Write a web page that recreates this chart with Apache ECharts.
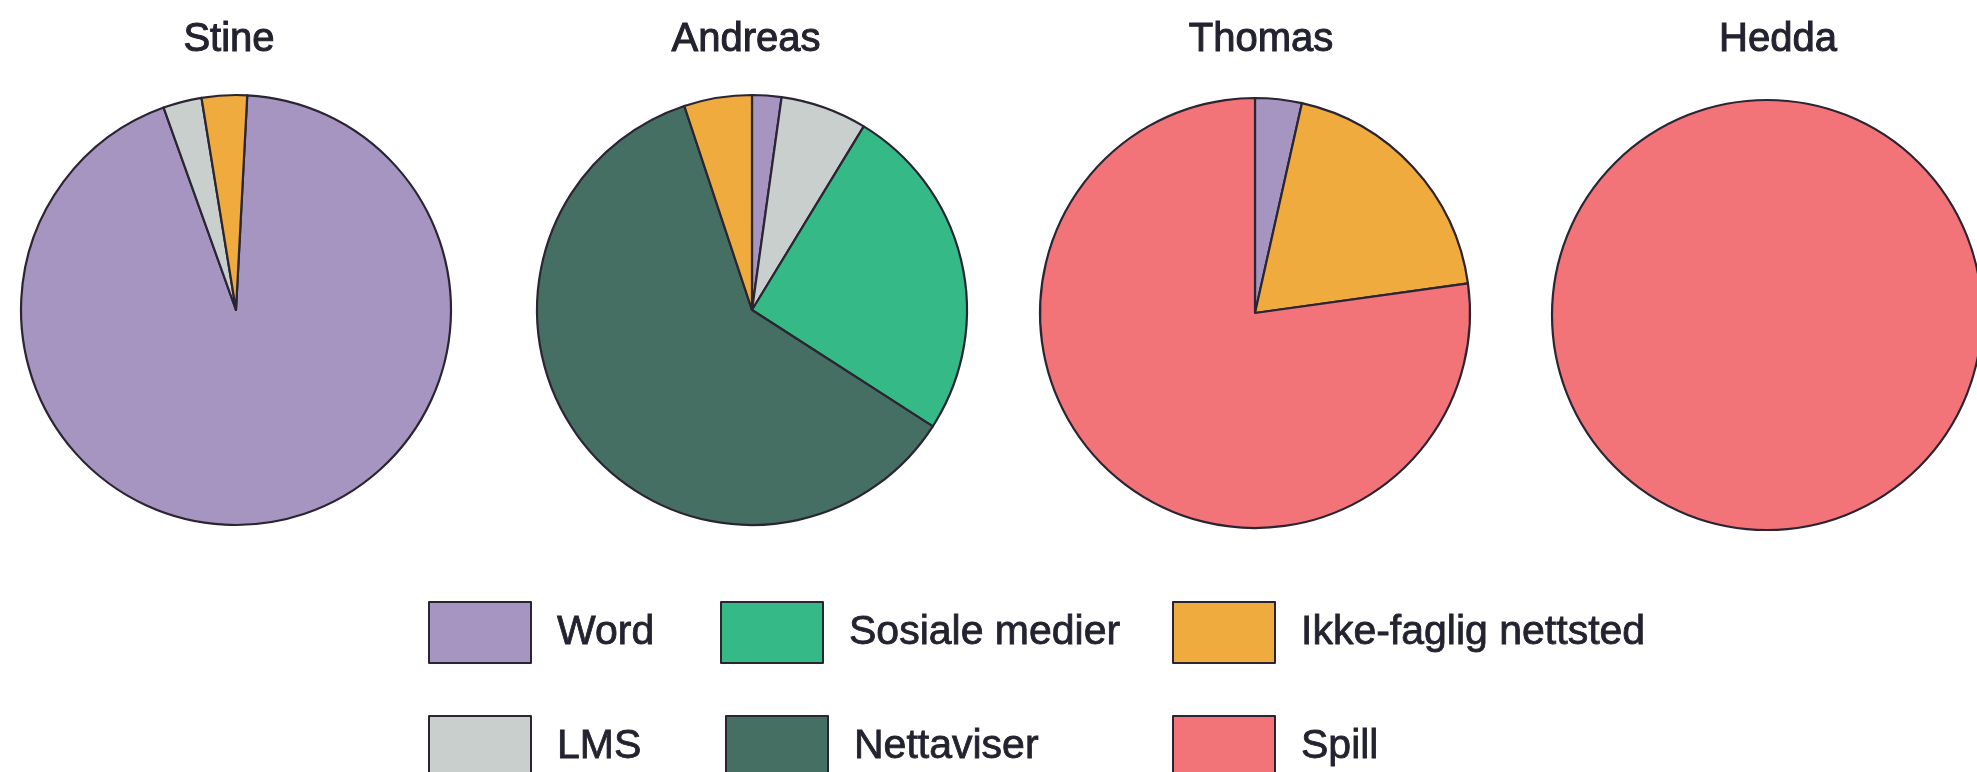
<!DOCTYPE html>
<html>
<head>
<meta charset="utf-8">
<script src="https://cdn.jsdelivr.net/npm/echarts@6/dist/echarts.min.js"></script>
<style>
html,body{margin:0;padding:0;background:#fff;}
#chart{width:1977px;height:772px;}
</style>
</head>
<body>
<div id="chart"></div>
<script>
// Categories in clockwise drawing order
const categories = ['Word', 'LMS', 'Sosiale medier', 'Nettaviser', 'Ikke-faglig nettsted', 'Spill'];
// Persons (pie titles)
const persons = ['Stine', 'Andreas', 'Thomas', 'Hedda'];
// Share (%) per category for each person
const stineValues   = [93.7, 2.9, 0, 0, 3.4, 0];
const andreasValues = [2.2, 6.5, 25.4, 60.8, 5.1, 0];
const thomasValues  = [3.5, 0, 0, 0, 19.3, 77.2];
const heddaValues   = [0, 0, 0, 0, 0, 100];
// Legend rows (as laid out in the figure)
const legendRow1 = ['Word', 'Sosiale medier', 'Ikke-faglig nettsted'];
const legendRow2 = ['LMS', 'Nettaviser', 'Spill'];

const colorMap = {
  'Word': '#a795c1',
  'LMS': '#c9cfcc',
  'Sosiale medier': '#34b987',
  'Nettaviser': '#466f63',
  'Ikke-faglig nettsted': '#efab3d',
  'Spill': '#f27479'
};
const allValues = [stineValues, andreasValues, thomasValues, heddaValues];
const centers = [[236, 310], [752, 310], [1255, 313], [1767, 315]];
const titleX = [224, 741, 1256, 1773];
const startAngles = [87, 90, 90, 90];
const radius = 215;
const border = '#2b2433';
const textColor = '#23222f';
const fontFam = '"Liberation Sans", Arial, sans-serif';

const series = persons.map((p, i) => ({
  type: 'pie',
  name: p,
  center: centers[i],
  radius: radius,
  startAngle: startAngles[i],
  clockwise: true,
  avoidLabelOverlap: false,
  label: {show: false},
  labelLine: {show: false},
  emphasis: {disabled: true},
  itemStyle: {borderColor: border, borderWidth: 2.2},
  data: categories.map((c, k) => ({name: c, value: allValues[i][k], itemStyle: {color: colorMap[c]}}))
                  .filter(d => d.value > 0)
}));

const titles = persons.map((p, i) => ({
  text: p,
  left: titleX[i],
  top: 15,
  textAlign: 'center',
  textStyle: {fontFamily: fontFam, fontSize: 40, fontWeight: 'normal', color: textColor,
              textBorderColor: textColor, textBorderWidth: 1}
}));

const colLeft = [[423, 715, 1167], [423, 720, 1167]];
const rowTop = [596, 710];
const legends = [];
[legendRow1, legendRow2].forEach((row, r) => {
  row.forEach((name, c) => {
    legends.push({
      data: [name],
      left: colLeft[r][c],
      top: rowTop[r],
      orient: 'horizontal',
      itemWidth: 102,
      itemHeight: 61,
      icon: 'rect',
      selectedMode: false,
      itemStyle: {borderColor: border, borderWidth: 2},
      textStyle: {fontFamily: fontFam, fontSize: 41, color: textColor, padding: [0, 0, 0, 21],
                  textBorderColor: textColor, textBorderWidth: 0.8}
    });
  });
});

const chart = echarts.init(document.getElementById('chart'), null, {renderer: 'canvas'});
chart.setOption({
  animation: false,
  backgroundColor: '#ffffff',
  title: titles,
  legend: legends,
  tooltip: {show: false},
  series: series
});
</script>
</body>
</html>
